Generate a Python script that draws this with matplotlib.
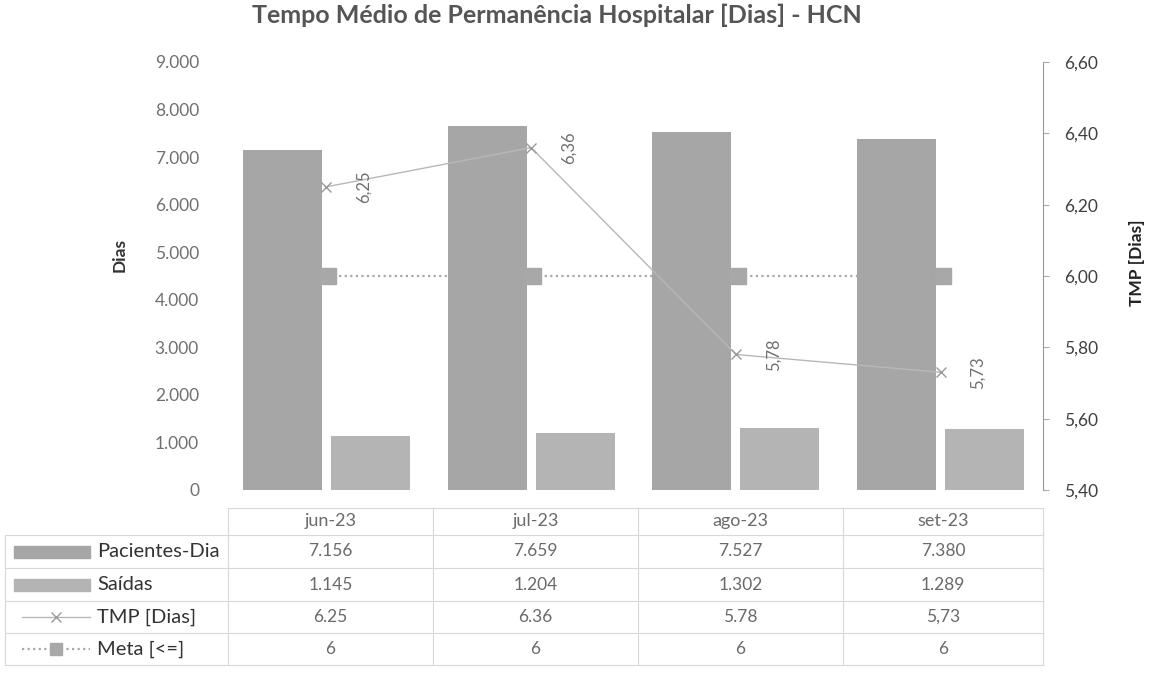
import numpy as np
import matplotlib.pyplot as plt
from matplotlib.ticker import FuncFormatter
from matplotlib.lines import Line2D
from matplotlib.patches import Rectangle

plt.rcParams['font.family'] = ['Lato', 'DejaVu Sans']

months = ['jun-23', 'jul-23', 'ago-23', 'set-23']
pacientes_dia = [7156, 7659, 7527, 7380]
saidas = [1145, 1204, 1302, 1289]
tmp_dias = [6.25, 6.36, 5.78, 5.73]
meta = [6, 6, 6, 6]

# text exactly as printed in the data table
pacientes_txt = ['7.156', '7.659', '7.527', '7.380']
saidas_txt = ['1.145', '1.204', '1.302', '1.289']
tmp_txt = ['6.25', '6.36', '5.78', '5,73']
meta_txt = ['6', '6', '6', '6']

W, H = 1151, 684
fig = plt.figure(figsize=(W / 100, H / 100), dpi=100)

def fx(px):
    return px / W

def fy(py):
    return 1 - py / H

c_pac = '#a6a6a6'
c_sai = '#b4b4b4'
c_line = '#b8b8b8'
c_meta = '#a8a8a8'
c_txt = '#6a6a6a'

left, right, top, bottom = 224, 1043, 62, 490
ax = fig.add_axes([fx(left), fy(bottom), fx(right - left), fy(top) - fy(bottom)])
x = np.arange(len(months))
w = 0.385
ax.bar(x - 0.215, pacientes_dia, w, color=c_pac)
ax.bar(x + 0.215, saidas, w, color=c_sai)
ax.set_xlim(-0.5, len(months) - 0.5)
ax.set_ylim(0, 9000)
ax.set_yticks(range(0, 9001, 1000))
ax.yaxis.set_major_formatter(FuncFormatter(lambda v, p: f'{int(v):,}'.replace(',', '.')))
ax.tick_params(axis='y', length=0, pad=18, labelsize=12.5, labelcolor='#707070')
ax.set_xticks([])
for s in ax.spines.values():
    s.set_visible(False)
ax.set_ylabel('Dias', fontsize=12.5, fontweight='bold', color='#333333')
ax.yaxis.set_label_coords((128 - left) / (right - left), 0.55)

ax2 = ax.twinx()
ax2.plot(x, tmp_dias, color=c_line, lw=1, marker='x', ms=7, mec='#999999')
ax2.plot(x + 0.01, meta, color=c_meta, lw=1.6, ls=(0, (1, 1.5)), marker='s', ms=11,
         mfc=c_meta, mec=c_meta)
for xi, v in zip(x, tmp_dias):
    ax2.annotate(f'{v:.2f}'.replace('.', ','), (xi, v), xytext=(27, 0),
                 textcoords='offset points', rotation=90, ha='center', va='center',
                 fontsize=12, color='#707070')
ax2.set_ylim(5.4, 6.6)
ax2.set_yticks(np.arange(5.4, 6.61, 0.2))
ax2.yaxis.set_major_formatter(FuncFormatter(lambda v, p: f'{v:.2f}'.replace('.', ',')))
ax2.tick_params(axis='y', length=4, width=0.8, color='#aaaaaa', pad=11,
                labelsize=12.5, labelcolor='#404040')
for s in ax2.spines.values():
    s.set_visible(False)
ax2.spines['right'].set_visible(True)
ax2.spines['right'].set_color('#999999')
ax2.spines['right'].set_linestyle((0, (1, 1)))
ax2.set_ylabel('TMP [Dias]', fontsize=12.5, fontweight='bold', color='#222222')
ax2.yaxis.set_label_coords((1129 - left) / (right - left), 0.53)

fig.text(fx(557), fy(15), 'Tempo Médio de Permanência Hospitalar [Dias] - HCN',
         ha='center', va='center', fontsize=18, fontweight='bold', color='#555555')

# data table
grid = '#d8d8d8'
col_x = [228, 433, 638, 843, 1043]
row_y = [508, 535, 568, 601, 633, 665]
for yy in row_y:
    x0 = 228 if yy == row_y[0] else 5
    fig.add_artist(Line2D([fx(x0), fx(1043)], [fy(yy), fy(yy)], color=grid, lw=0.8))
for xx in col_x:
    fig.add_artist(Line2D([fx(xx), fx(xx)], [fy(508), fy(665)], color=grid, lw=0.8))
fig.add_artist(Line2D([fx(5), fx(5)], [fy(535), fy(665)], color=grid, lw=0.8))

for i, m in enumerate(months):
    cx = (col_x[i] + col_x[i + 1]) / 2
    fig.text(fx(cx), fy(521), m, ha='center', va='center', fontsize=13, color=c_txt)

rows = [('Pacientes-Dia', pacientes_txt), ('Saídas', saidas_txt),
        ('TMP [Dias]', tmp_txt), ('Meta [<=]', meta_txt)]
for r, (name, vals) in enumerate(rows):
    cy = (row_y[r + 1] + row_y[r + 2]) / 2
    for i, v in enumerate(vals):
        cx = (col_x[i] + col_x[i + 1]) / 2
        fig.text(fx(cx), fy(cy), v, ha='center', va='center', fontsize=12.5, color=c_txt)
    fig.text(fx(97), fy(cy), name, ha='left', va='center', fontsize=14.5, color='#333333')

# legend keys inside the table
for r, col in enumerate([c_pac, c_sai]):
    cy = (row_y[r + 1] + row_y[r + 2]) / 2
    fig.add_artist(Rectangle((fx(14), fy(cy + 6)), fx(76), fy(cy - 6) - fy(cy + 6),
                             color=col, transform=fig.transFigure))
cy = (row_y[3] + row_y[4]) / 2
fig.add_artist(Line2D([fx(22), fx(90)], [fy(cy), fy(cy)], color=c_line, lw=1))
fig.add_artist(Line2D([fx(56)], [fy(cy)], marker='x', ms=7, color='#999999', lw=0))
cy = (row_y[4] + row_y[5]) / 2
fig.add_artist(Line2D([fx(22), fx(90)], [fy(cy), fy(cy)], color=c_meta, lw=1.6,
                      ls=(0, (1, 1.5))))
fig.add_artist(Line2D([fx(56)], [fy(cy)], marker='s', ms=9, color=c_meta, lw=0))

fig.savefig('out.png', dpi=100, facecolor='white')
